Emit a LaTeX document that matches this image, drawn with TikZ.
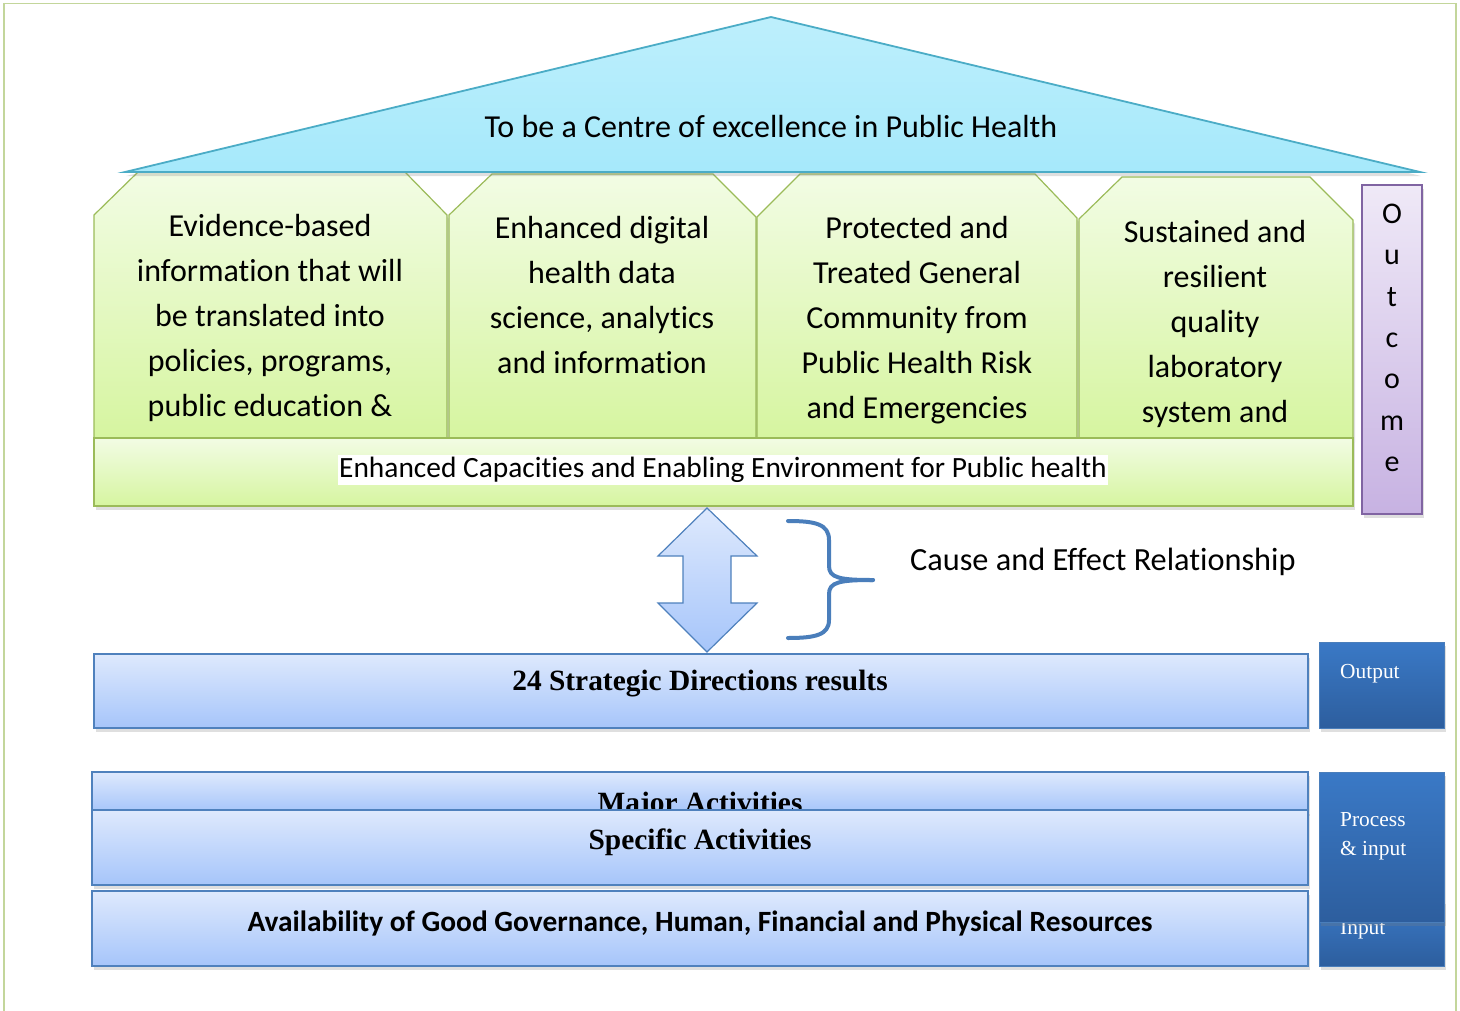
\documentclass[tikz,border=0pt]{standalone}
\usepackage{fontspec}
\setmainfont[Ligatures=NoCommon]{Carlito}
\newfontfamily\tms{Liberation Serif}
\usetikzlibrary{shadows}
\definecolor{roofline}{HTML}{4BACC6}
\definecolor{rooffill}{HTML}{A6E9FB}
\definecolor{rooftop}{HTML}{BDEFFC}
\definecolor{grline}{HTML}{9BBB59}
\definecolor{grtop}{HTML}{F2FCE4}
\definecolor{grbot}{HTML}{D6F5A0}
\definecolor{lvline}{HTML}{8064A2}
\definecolor{lvtop}{HTML}{EFE9F7}
\definecolor{lvbot}{HTML}{C7B2E2}
\definecolor{blline}{HTML}{4F81BD}
\definecolor{bltop}{HTML}{DEE9FD}
\definecolor{blbot}{HTML}{A6C5FA}
\definecolor{dbtop}{HTML}{3A79C6}
\definecolor{dbbot}{HTML}{2D5E9E}
\definecolor{dbline}{HTML}{4A7EBB}
\definecolor{pageline}{HTML}{C3D69B}
\tikzset{
  shad/.style={drop shadow={opacity=0.25,shadow xshift=2pt,shadow yshift=-4pt}},
  roof/.style={draw=roofline,line width=1.8pt,top color=rooftop,bottom color=rooffill},
  pillar/.style={draw=grline,line width=1.2pt,top color=grtop,bottom color=grbot,shad},
  lav/.style={draw=lvline,line width=1.5pt,top color=lvtop,bottom color=lvbot,shad},
  lbox/.style={draw=blline,line width=1.2pt,top color=bltop,bottom color=blbot,shad},
  dbox/.style={draw=dbline,line width=1pt,top color=dbtop,bottom color=dbbot,shad},
  ptext/.style={font=\fontsize{32}{45}\selectfont,align=center,inner sep=0pt,anchor=north},
  stext/.style={font=\tms\fontsize{21.4}{29}\selectfont,text=white,align=left,inner sep=0pt,anchor=west},
  btext/.style={font=\tms\bfseries\fontsize{29.4}{32}\selectfont,inner sep=0pt},
}
\begin{document}
\begin{tikzpicture}[x=1pt,y=-1pt]
\useasboundingbox (0,0) rectangle (1460,1010);
% page border
\draw[pageline,line width=1.2pt] (4,1012) -- (4,3.5) -- (1456,3.5) -- (1456,1012);

% pillars
\draw[pillar] (94,438) -- (94,215) -- (138,172) -- (405,172) -- (447,215) -- (447,438) -- cycle;
\draw[pillar] (449,438) -- (449,215) -- (492,174) -- (713,174) -- (756,217) -- (756,438) -- cycle;
\draw[pillar] (757,438) -- (757,217) -- (800,174) -- (1035,174) -- (1077,218) -- (1077,438) -- cycle;
\draw[pillar] (1079,438) -- (1079,219) -- (1122,177) -- (1310,177) -- (1353,220) -- (1353,438) -- cycle;
% base
\draw[pillar] (94,438) rectangle (1353,506);
\node[fill=white,inner xsep=1pt,inner ysep=2pt,font=\fontsize{29.4}{32}\selectfont] (base) at (723,470) {Enhanced Capacities and Enabling Environment for Public health};

\node[ptext] (p1) at (270,214) {Evidence-based\\information that will\\be translated into\\policies, programs,\\public education \&};
\node[ptext] (p2) at (602,216) {Enhanced digital\\health data\\science, analytics\\and information};
\node[ptext] (p3) at (917,216) {Protected and\\Treated General\\Community from\\Public Health Risk\\and Emergencies};
\node[ptext] (p4) at (1215,220) {Sustained and\\resilient\\quality\\laboratory\\system and};

% roof
\draw[roof,drop shadow={opacity=0.25,shadow xshift=1pt,shadow yshift=-4pt}] (125,172) -- (771,17) -- (1420,172) -- cycle;
\node[font=\fontsize{32}{36}\selectfont,inner sep=0pt] (roofT) at (771,127) {To be a Centre of excellence in Public Health};

% outcome
\draw[lav] (1362,185) rectangle (1422,514);
\node[font=\fontsize{30}{41.3}\selectfont,align=center,inner sep=0pt,anchor=north] (outc) at (1392,204) {O\\u\\t\\c\\o\\m\\e};

% double arrow
\draw[draw=blline,line width=1.2pt,top color=bltop,bottom color=blbot,line join=miter]
 (707,508) -- (757,556) -- (731,556) -- (731,603) -- (757,603) -- (707,652) -- (658,603) -- (683,603) -- (683,556) -- (658,556) -- cycle;

% brace
\draw[dbline,line width=4pt,line cap=round]
 (788,521) .. controls (815,521) and (829,524) .. (829,540) -- (829,566)
 .. controls (829,578) and (840,580) .. (873,580);
\draw[dbline,line width=4pt,line cap=round]
 (788,638) .. controls (815,638) and (829,635) .. (829,620) -- (829,594)
 .. controls (829,582) and (840,580) .. (873,580);
\node[font=\fontsize{32.3}{36}\selectfont,inner sep=0pt,anchor=west] (cause) at (910,562) {Cause and Effect Relationship};

% output rows
\draw[lbox] (94,654) rectangle (1308,728);
\node[btext] (sd) at (700,684) {24 Strategic Directions results};

\draw[lbox] (92,772) rectangle (1308,812);
\node[btext] (maj) at (700,805) {Major Activities};
\draw[lbox] (92,810) rectangle (1308,885);
\node[btext] (spec) at (700,842) {Specific Activities};

\draw[lbox] (92,891) rectangle (1308,966);
\node[font=\bfseries\fontsize{29.4}{32}\selectfont,inner sep=0pt] (avail) at (700,923) {Availability of Good Governance, Human, Financial and Physical Resources};

% right dark boxes
\draw[dbox] (1319,642) rectangle (1444,728);
\node[stext] (outp) at (1340,674) {Output};

\draw[dbox] (1319,900) rectangle (1444,966);
\node[stext] (inp) at (1340,930) {Input};
\draw[dbox] (1319,772) rectangle (1444,922);
\node[stext,anchor=north west] (proc) at (1340,812) {Process\\\& input};
\end{tikzpicture}
\end{document}
